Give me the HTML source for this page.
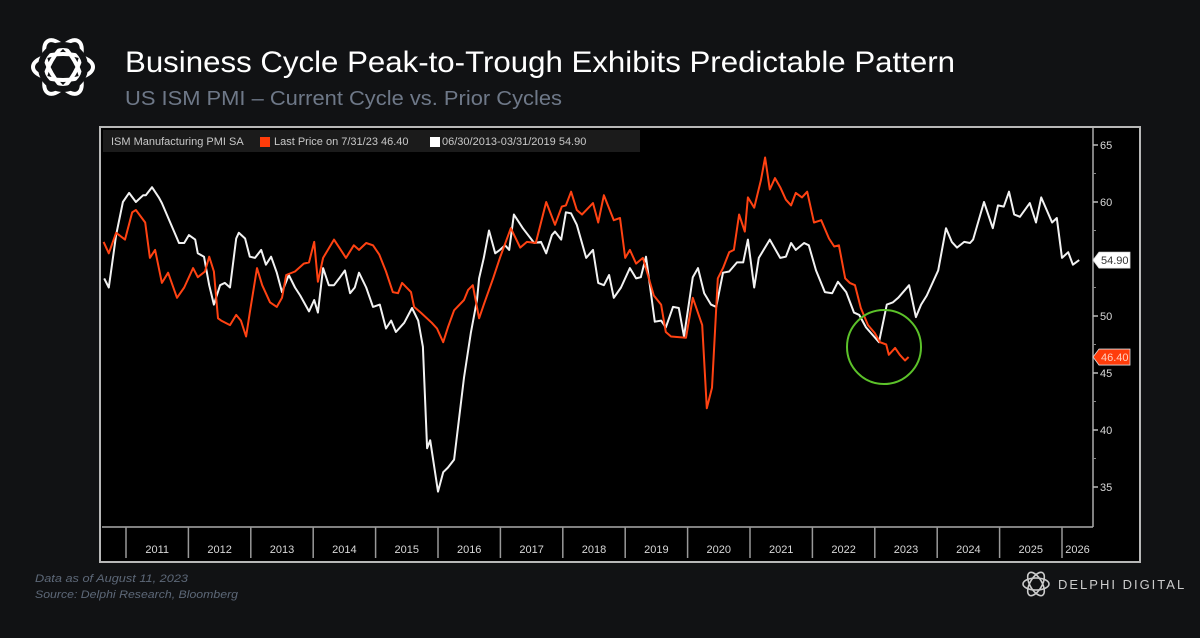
<!DOCTYPE html>
<html><head><meta charset="utf-8"><style>
html,body{margin:0;padding:0;background:#111214;width:1200px;height:638px;overflow:hidden;font-family:"Liberation Sans",sans-serif}
</style></head><body>
<svg width="1200" height="638" viewBox="0 0 1200 638" xmlns="http://www.w3.org/2000/svg" id="root">
<rect x="0" y="0" width="1200" height="638" fill="#111214"/>
<g fill="none" stroke="#fff" stroke-width="4">
  <ellipse cx="63" cy="67" rx="30" ry="13" transform="rotate(0 63 67)"/>
  <ellipse cx="63" cy="67" rx="30" ry="13" transform="rotate(60 63 67)"/>
  <ellipse cx="63" cy="67" rx="30" ry="13" transform="rotate(120 63 67)"/>
  <circle cx="63" cy="67" r="22" stroke="#111214" stroke-width="6"/>
</g>
<text x="125" y="72" fill="#fff" font-size="30" textLength="830" lengthAdjust="spacingAndGlyphs">Business Cycle Peak-to-Trough Exhibits Predictable Pattern</text>
<text x="125" y="105" fill="#6e7888" font-size="20" textLength="437" lengthAdjust="spacingAndGlyphs">US ISM PMI – Current Cycle vs. Prior Cycles</text>

<rect x="100" y="127" width="1040" height="435" fill="#000" stroke="#b8b8b8" stroke-width="2"/>
<rect x="103" y="130" width="537" height="22" fill="#1b1b1b"/>
<text x="111" y="145" fill="#c8c8c8" font-size="11">ISM Manufacturing PMI SA</text>
<rect x="260" y="137" width="10" height="10" fill="#ff3c0a"/>
<text x="274" y="145" fill="#c8c8c8" font-size="11">Last Price on 7/31/23 46.40</text>
<rect x="430" y="137" width="10" height="10" fill="#fff"/>
<text x="442" y="145" fill="#c8c8c8" font-size="11">06/30/2013-03/31/2019 54.90</text>

<line x1="102" y1="527" x2="1093" y2="527" stroke="#aaa" stroke-width="1.5"/>
<line x1="1093" y1="128" x2="1093" y2="527" stroke="#aaa" stroke-width="1.5"/>
<g id="xaxis"></g><g id="yaxis"></g><g id="series"></g>
<circle cx="884" cy="347" r="37" fill="none" stroke="#5cc22a" stroke-width="2"/>

<text x="35" y="582" fill="#5d6878" font-size="11" font-style="italic" textLength="153" lengthAdjust="spacingAndGlyphs">Data as of August 11, 2023</text>
<text x="35" y="598" fill="#5d6878" font-size="11" font-style="italic" textLength="203" lengthAdjust="spacingAndGlyphs">Source: Delphi Research, Bloomberg</text>
<g fill="none" stroke="#ccc" stroke-width="1.6">
  <ellipse cx="1036" cy="584" rx="13" ry="6"/>
  <ellipse cx="1036" cy="584" rx="13" ry="6" transform="rotate(60 1036 584)"/>
  <ellipse cx="1036" cy="584" rx="13" ry="6" transform="rotate(120 1036 584)"/>
</g>
<text x="1058" y="589" fill="#ccc" font-size="13" letter-spacing="2">DELPHI DIGITAL</text>
</svg>
<script>
const yTicks=[35,40,45,50,55,60,65];
const yearLabels=["2011","2012","2013","2014","2015","2016","2017","2018","2019","2020","2021","2022","2023","2024","2025","2026"];
// months since Jan 2011
const currentMonths=[-4.3,-3.3,-1.9,-0.2,1.2,1.9,3.7,4.6,5.6,6.9,8.1,9.8,11.2,12.9,13.8,15.2,16.0,16.9,17.7,18.3,20.0,21.2,22.1,23.1,23.8,25.2,26.2,27.7,29.0,30.0,30.8,32.5,34.2,35.2,36.2,36.9,37.9,40.0,42.3,43.8,44.8,46.2,47.5,48.7,50.0,51.3,52.3,53.1,54.8,55.4,56.7,58.8,59.8,61.0,61.9,63.1,65.0,65.8,66.7,67.9,68.8,70.6,71.9,74.0,75.8,77.1,78.8,79.8,80.8,82.5,83.8,84.6,85.6,86.7,87.7,89.8,90.8,91.9,93.8,95.0,96.0,96.9,98.1,99.4,101.5,102.9,103.8,104.8,107.7,109.0,110.8,111.7,112.7,113.8,114.8,116.0,116.9,117.9,119.0,119.6,120.8,122.1,122.9,123.8,124.8,125.8,126.9,127.9,128.8,130.0,131.0,132.3,133.7,135.2,136.2,137.1,138.3,139.2,140.2,141.3,142.7,144.0,145.0,146.2,146.7,147.9,148.8,149.8,150.5];
const currentValues=[56.5,55.5,57.3,56.7,59.1,59.3,58.2,55.1,55.8,52.9,53.8,51.6,52.5,54.2,53.4,53.9,55.2,53.9,49.8,49.6,49.2,50.1,49.6,48.2,50.3,54.2,52.7,51.2,50.8,51.6,53.6,53.9,54.6,54.7,56.5,53.0,55.1,56.7,55.1,56.2,55.8,56.4,56.2,55.4,53.9,52.1,52.0,52.9,52.1,50.8,50.3,49.4,48.9,47.7,49.0,50.5,51.4,52.3,52.7,49.8,51.0,53.3,55.1,57.7,56.0,56.5,56.4,58.2,60.0,58.0,59.6,59.7,60.9,59.3,58.9,59.9,58.2,60.6,58.4,58.6,55.1,55.8,54.6,55.1,51.8,51.0,48.6,48.2,48.1,51.6,49.2,41.9,43.7,53.3,54.2,55.6,55.8,58.9,57.4,60.4,59.5,61.9,63.9,61.1,62.1,61.3,60.2,59.7,60.8,60.4,60.9,58.2,58.4,56.8,56.1,56.2,53.3,52.9,52.7,50.7,49.2,48.5,47.7,47.5,46.6,47.2,46.6,46.1,46.4];
const priorMonths=[-4.2,-3.3,-1.9,-0.6,0.6,1.9,3.3,3.8,5.0,6.3,6.9,8.5,10.2,11.2,12.1,13.3,13.8,15.0,16.0,16.9,18.1,19.0,20.0,21.2,21.7,22.9,23.8,24.8,26.0,26.9,27.9,29.0,30.0,31.3,32.5,33.5,35.2,36.2,36.9,37.9,39.0,40.0,41.0,42.1,43.1,44.0,44.8,46.2,47.5,48.8,50.0,51.0,51.9,53.5,55.0,56.2,57.1,57.9,58.5,60.0,61.0,61.9,63.1,65.0,66.3,67.5,67.9,68.8,69.8,71.0,71.9,72.9,73.7,74.6,76.3,78.5,79.8,80.8,81.9,82.5,83.7,84.6,85.6,86.7,88.5,89.8,90.8,91.9,92.9,93.8,95.2,96.9,98.1,99.0,100.0,101.7,102.9,103.8,105.2,106.3,107.3,109.0,110.0,111.2,112.5,113.5,114.8,116.0,117.5,118.7,119.6,120.8,121.7,123.8,125.8,126.9,127.9,128.8,130.4,131.3,132.7,134.4,135.8,136.9,138.5,140.0,141.0,142.3,144.8,146.3,147.5,148.5,150.6,151.9,152.9,154.0,156.2,157.7,158.8,159.8,161.2,162.3,162.9,165.0,166.7,167.7,168.8,169.8,170.8,171.9,173.8,175.0,176.0,178.1,179.0,180.0,181.2,182.1,183.3];
const priorValues=[53.3,52.5,57.1,60.0,60.8,60.0,60.6,60.6,61.3,60.4,59.9,58.2,56.4,56.4,57.1,56.7,55.5,55.2,52.7,51.0,52.7,52.9,52.5,56.8,57.3,56.8,55.2,55.1,55.8,54.5,55.2,53.8,52.1,53.6,52.5,51.8,50.4,51.4,50.3,54.2,52.7,52.7,53.3,54.0,52.0,52.5,53.8,52.5,50.8,51.0,48.9,49.6,48.6,49.4,50.7,49.6,47.3,38.4,39.1,34.6,36.3,36.7,37.4,44.6,48.5,51.4,53.3,55.1,57.5,55.5,55.8,56.2,55.8,58.9,57.7,56.4,56.5,55.5,57.1,57.4,56.7,59.1,59.0,58.0,55.1,55.8,52.9,52.7,53.6,51.6,52.5,54.2,53.3,53.4,55.2,49.5,49.6,49.0,50.8,50.7,48.2,53.4,54.2,52.0,51.0,50.8,53.8,53.9,54.7,54.7,56.7,52.5,55.1,56.7,55.1,55.2,56.4,55.8,56.4,56.2,54.0,52.1,52.0,53.0,52.1,50.3,50.1,49.0,47.7,51.0,51.2,51.6,52.7,49.9,51.0,51.8,54.0,57.7,56.5,56.0,56.5,56.4,56.7,60.0,57.7,59.7,59.6,60.9,58.9,58.7,59.9,58.2,60.4,58.2,58.6,55.1,55.6,54.5,54.9];
const currentLast=46.40, priorLast=54.90;

const NS="http://www.w3.org/2000/svg";
const X0=126, PX_PER_MONTH=62.4/12;
function xScale(m){return X0+m*PX_PER_MONTH;}
function yScale(v){return 145+(65-v)*11.4;}
function mk(tag,attrs,parent){const e=document.createElementNS(NS,tag);for(const k in attrs)e.setAttribute(k,attrs[k]);parent.appendChild(e);return e;}

const xg=document.getElementById('xaxis');
yearLabels.forEach((lab,i)=>{
  const x=xScale(i*12);
  const t=mk('line',{x1:x,y1:527,x2:x,y2:558,stroke:'#999','stroke-width':1.5},xg);
  
  
  const nx=Math.min(xScale((i+1)*12),1093);
  const tx=mk('text',{x:(x+nx)/2,y:553,fill:'#d8d8d8','font-size':11,'text-anchor':'middle'},xg);
  tx.textContent=lab;
  
  
});
const yg=document.getElementById('yaxis');
yTicks.forEach(v=>{
  const y=yScale(v);
  const t=mk('line',{x1:1093,y1:y,x2:1098,y2:y,stroke:'#bbb','stroke-width':1.5},yg);
  
  
  const tx=mk('text',{x:1100,y:y+4,fill:'#d8d8d8','font-size':11},yg);
  tx.textContent=v;
  
  
  if(v>35){const m=mk('line',{x1:1093,y1:yScale(v-2.5),x2:1096,y2:yScale(v-2.5),stroke:'#888','stroke-width':1},yg);
    
    }
});
const sg=document.getElementById('series');
function line(ms,vs,color,name){
  const d=ms.map((m,i)=>(i?'L':'M')+xScale(m).toFixed(1)+','+yScale(vs[i]).toFixed(1)).join(' ');
  const p=mk('path',{d:d,fill:'none',stroke:color,'stroke-width':2,'stroke-linejoin':'round'},sg);
  
  
}
line(priorMonths,priorValues,'#f2f2f2','prior-cycle-line');
line(currentMonths,currentValues,'#ff4212','current-cycle-line');
function tag(v,bg,fg,name){
  const y=yScale(v);
  const r=mk('path',{d:`M1093,${y} L1099,${y-8} L1130,${y-8} L1130,${y+8} L1099,${y+8} Z`,fill:bg,stroke:'#ddd','stroke-width':0.8},sg);
  
  
  const t=mk('text',{x:1101,y:y+4,fill:fg,'font-size':11},sg);
  t.textContent=v.toFixed(2);
  
  
}
tag(priorLast,'#fff','#333','prior-last-value');
tag(currentLast,'#ff3c0a','#ffd0c0','current-last-value');
</script>
</body></html>
